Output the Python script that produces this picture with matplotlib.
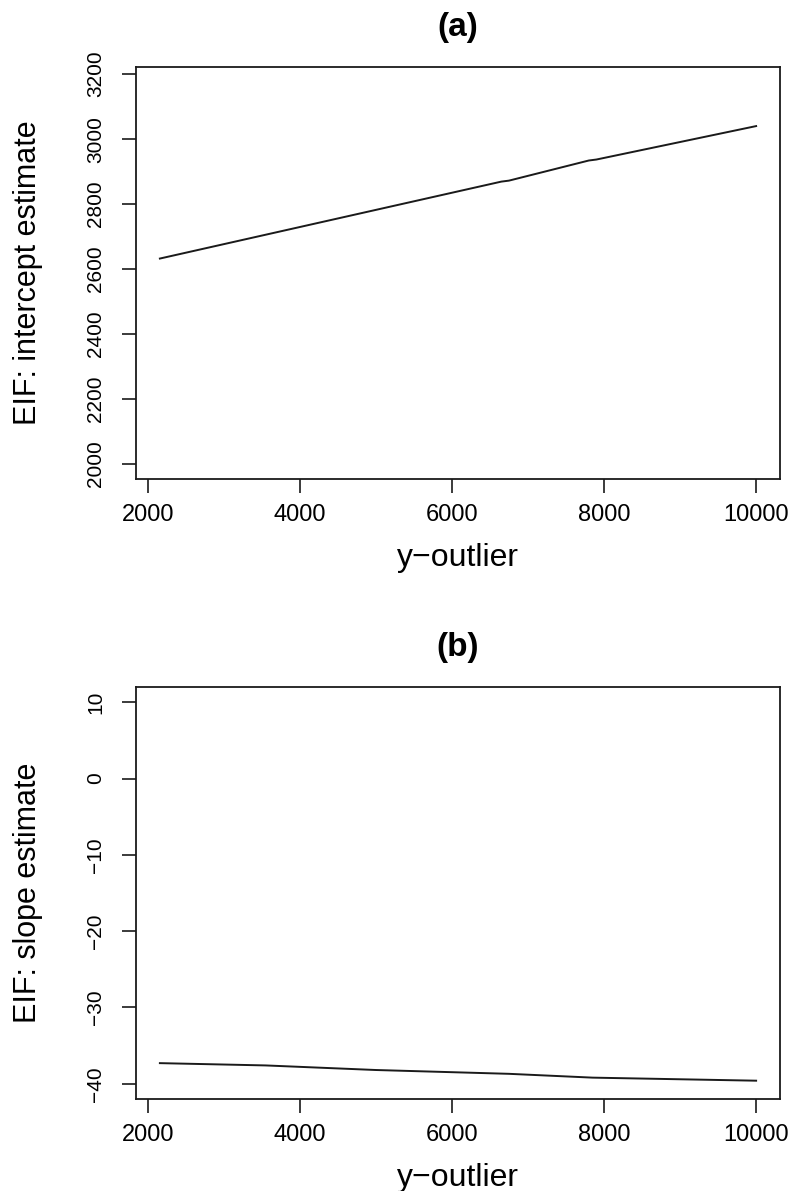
import matplotlib
matplotlib.use('Agg')
import matplotlib.pyplot as plt

plt.rcParams['font.family'] = ['Liberation Sans', 'DejaVu Sans']

# panel (a): EIF of the intercept estimate
x_a = [2160, 6650, 6750, 7800, 7900, 10000]
y_a = [2632, 2869, 2872, 2934, 2937, 3040]

# panel (b): EIF of the slope estimate
x_b = [2160, 3550, 5000, 6750, 7850, 10000]
y_b = [-37.3, -37.6, -38.2, -38.7, -39.2, -39.6]

xticks = [2000, 4000, 6000, 8000, 10000]
yticks_a = [2000, 2200, 2400, 2600, 2800, 3000, 3200]
yticks_b = [-40, -30, -20, -10, 0, 10]

W, H = 793, 1191
fig = plt.figure(figsize=(W / 100, H / 100), dpi=100)

def box(l, t, r, b):
    return [l / W, 1 - b / H, (r - l) / W, (b - t) / H]

panels = [
    (box(136, 67, 780, 479), x_a, y_a, yticks_a, (1953, 3222), '(a)', 'EIF: intercept estimate'),
    (box(136, 687, 780, 1099), x_b, y_b, yticks_b, (-42, 12), '(b)', 'EIF: slope estimate'),
]

ink = '#1a1a1a'
for pos, xs, ys, yt, ylim, title, ylab in panels:
    ax = fig.add_axes(pos)
    ax.plot(xs, ys, color=ink, lw=1.4)
    ax.set_xlim(1846, 10314)
    ax.set_ylim(*ylim)
    ax.set_xticks(xticks)
    ax.set_xticklabels([str(v) for v in xticks])
    ax.set_yticks(yt)
    ax.set_yticklabels([str(v).replace('-', '\u2212') for v in yt], rotation=90, va='center')
    for s in ax.spines.values():
        s.set_linewidth(1.3)
        s.set_color(ink)
    ax.tick_params(axis='x', length=10, width=1.2, color=ink, labelsize=17, pad=8)
    ax.tick_params(axis='y', length=10, width=1.2, color=ink, labelsize=15, pad=12)
    ax.set_title(title, fontsize=24, fontweight='bold', pad=22)
    ax.set_xlabel('y\u2212outlier', fontsize=23)
    ax.xaxis.set_label_coords(0.5, -0.155)
    ax.set_ylabel(ylab, fontsize=22)
    ax.yaxis.set_label_coords(-0.145, 0.5)

fig.savefig('out.png', dpi=100)
